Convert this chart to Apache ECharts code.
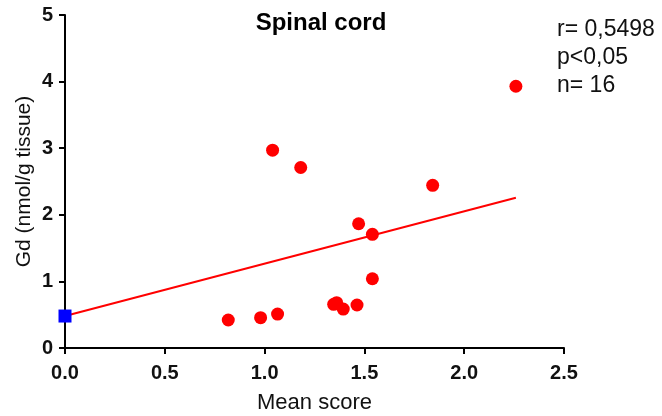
<!DOCTYPE html>
<html>
<head>
<meta charset="utf-8">
<script src="https://cdn.jsdelivr.net/npm/echarts@6/dist/echarts.min.js"></script>
<style>
  html, body { margin: 0; padding: 0; background: #fff; }
  #chart { width: 662px; height: 416px; }
</style>
</head>
<body>
<div id="chart"></div>
<script>
// 数据：平均评分 vs Gd 含量
var meanScore = [0.818, 0.980, 1.065, 1.040, 1.181, 1.346, 1.361, 1.394, 1.463, 1.471, 1.540, 1.540, 1.842, 2.259]
var gdValue = [0.42, 0.455, 0.51, 2.97, 2.71, 0.656, 0.68, 0.585, 0.646, 1.866, 1.707, 1.04, 2.443, 3.93]
// 对照点（蓝色方块）
var controlX = [0]
var controlY = [0.48]
// 回归线两端
var fitX = [0, 2.259]
var fitY = [0.48, 2.257]
var statLines = ['r= 0,5498', 'p<0,05', 'n= 16']

var points = meanScore.map(function (x, i) { return [x, gdValue[i]] })
var control = controlX.map(function (x, i) { return [x, controlY[i]] })
var fit = fitX.map(function (x, i) { return [x, fitY[i]] })

var font = 'Arial, "Liberation Sans", sans-serif'
var chart = echarts.init(document.getElementById('chart'))
chart.setOption({
  animation: false,
  textStyle: { fontFamily: font },
  title: {
    text: 'Spinal cord',
    left: 316,
    top: 6,
    textAlign: 'center',
    textStyle: { fontSize: 24, fontWeight: 'bold', color: '#000', fontFamily: font }
  },
  graphic: [{
    type: 'text',
    left: 557,
    top: 16,
    style: {
      text: statLines.join('\n'),
      font: '23px ' + font,
      fill: '#111',
      lineHeight: 28
    }
  }],
  grid: { left: 65, right: 98, top: 15, bottom: 68, outerBoundsMode: 'none', containLabel: false },
  xAxis: {
    type: 'value',
    min: 0,
    max: 2.5,
    interval: 0.5,
    name: 'Mean score',
    nameLocation: 'middle',
    nameGap: 44,
    nameMoveOverlap: false,
    nameTextStyle: { fontSize: 22, color: '#111', fontFamily: font },
    axisLine: { show: true, lineStyle: { color: '#000', width: 2 } },
    axisTick: { show: true, length: 6, lineStyle: { color: '#000', width: 2 } },
    axisLabel: {
      fontSize: 20, fontWeight: 'bold', color: '#111', margin: 15,
      formatter: function (v) { return v.toFixed(1) }
    },
    splitLine: { show: false }
  },
  yAxis: {
    type: 'value',
    min: 0,
    max: 5,
    interval: 1,
    name: 'Gd (nmol/g tissue)',
    nameLocation: 'middle',
    nameGap: 30,
    nameMoveOverlap: false,
    nameTextStyle: { fontSize: 21, color: '#111', fontFamily: font },
    axisLine: { show: true, lineStyle: { color: '#000', width: 2 } },
    axisTick: { show: true, length: 6, lineStyle: { color: '#000', width: 2 } },
    axisLabel: { fontSize: 20, fontWeight: 'bold', color: '#111', margin: 12 },
    splitLine: { show: false }
  },
  series: [
    {
      type: 'line',
      data: fit,
      symbol: 'none',
      lineStyle: { color: '#ff0000', width: 2 },
      z: 2
    },
    {
      type: 'scatter',
      data: points,
      symbol: 'circle',
      symbolSize: 13,
      itemStyle: { color: '#ff0000', opacity: 1 },
      z: 3
    },
    {
      type: 'scatter',
      data: control,
      symbol: 'rect',
      symbolSize: 13,
      itemStyle: { color: '#0000ff', opacity: 1 },
      clip: false,
      z: 4
    }
  ]
})
</script>
</body>
</html>
